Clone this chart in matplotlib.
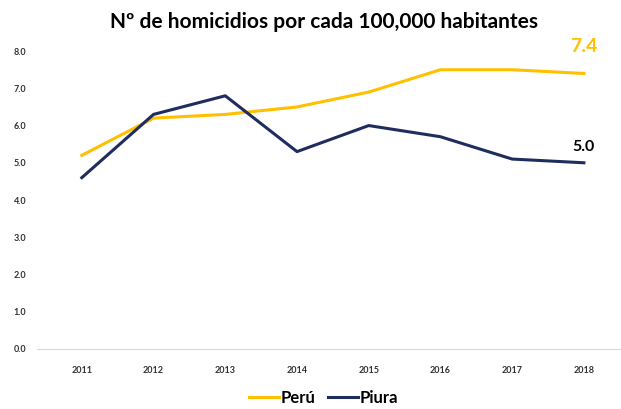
import matplotlib.pyplot as plt

plt.rcParams['font.family'] = ['Lato', 'DejaVu Sans']

years = ['2011', '2012', '2013', '2014', '2015', '2016', '2017', '2018']
peru = [5.2, 6.2, 6.3, 6.5, 6.9, 7.5, 7.5, 7.4]
piura = [4.6, 6.3, 6.8, 5.3, 6.0, 5.7, 5.1, 5.0]
yticks = [0, 1, 2, 3, 4, 5, 6, 7, 8]

c_peru = '#FFC000'
c_piura = '#1F2D5E'

fig = plt.figure(figsize=(6.21, 4.09), dpi=100)
ax = fig.add_axes([0.074, 0.147, 0.924, 0.728])

x = range(len(years))
ax.plot(x, peru, color=c_peru, lw=2.2, label='Perú')
ax.plot(x, piura, color=c_piura, lw=2.2, label='Piura')

ax.set_xlim(-0.5, len(years) - 0.5)
ax.set_ylim(0, 8)
ax.set_yticks(yticks)
ax.set_yticklabels([f'{v:.1f}' for v in yticks], fontsize=6.5, fontweight='bold', color='#333333')
ax.set_xticks(list(x))
ax.set_xticklabels(years, fontsize=6.5, fontweight='bold', color='#333333')
ax.tick_params(length=0, pad=12, axis='x')
ax.tick_params(length=0, pad=14, axis='y')

for s in ['top', 'right', 'left']:
    ax.spines[s].set_visible(False)
ax.spines['bottom'].set_color('#D9D9D9')
ax.spines['bottom'].set_bounds(-0.62, len(years) - 0.5)
ax.spines['bottom'].set_clip_on(False)

# etiquetas del último valor
ax.annotate(f'{peru[-1]:.1f}', (7, peru[-1]), xytext=(0, 13), textcoords='offset points',
            ha='center', va='bottom', color=c_peru, fontsize=14, fontweight='bold')
ax.annotate(f'{piura[-1]:.1f}', (7, piura[-1]), xytext=(0, 6), textcoords='offset points',
            ha='center', va='bottom', color='black', fontsize=11.5, fontweight='bold')

fig.text(0.522, 0.946, 'Nº de homicidios por cada 100,000 habitantes', ha='center', va='center',
         fontsize=15, fontweight='bold')

fig.legend(loc='center', bbox_to_anchor=(0.521, 0.027), ncol=2, frameon=False,
           prop={'size': 12, 'weight': 'bold'}, handlelength=1.8, handletextpad=0.1,
           columnspacing=0.8)

fig.savefig('out.png', dpi=100)
